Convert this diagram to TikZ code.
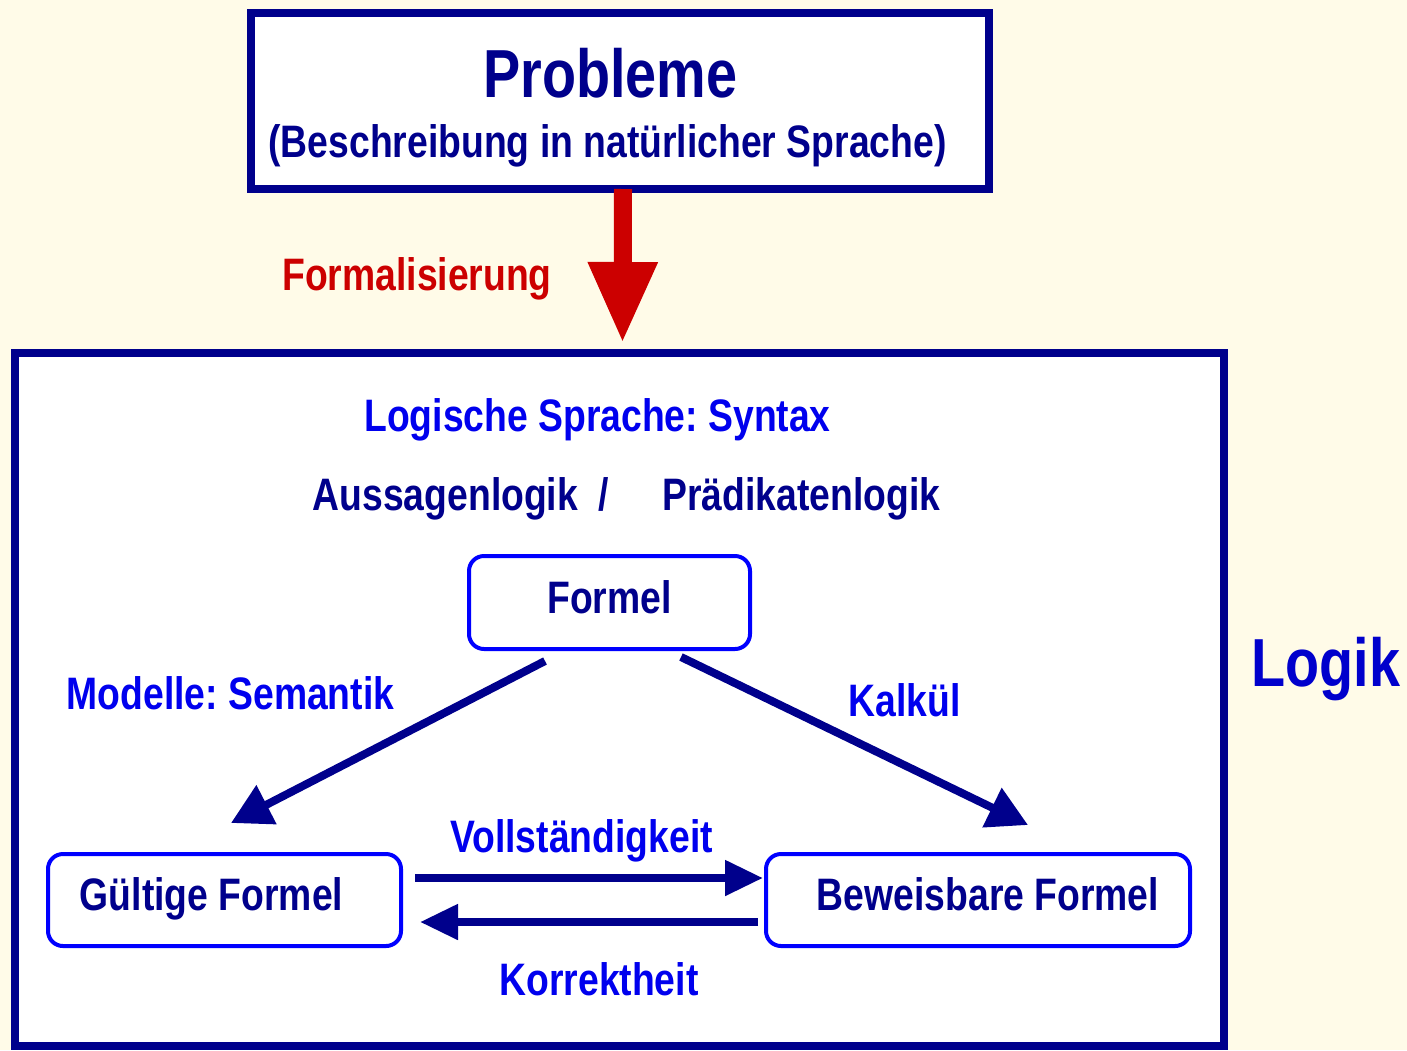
\documentclass[tikz,border=0pt]{standalone}
\usepackage{fontspec}
\setmainfont{Liberation Sans}[FakeStretch=0.82]
\usepackage{tikz}
\usetikzlibrary{arrows.meta, positioning}

\definecolor{navy}{RGB}{0,0,140}
\definecolor{hellblau}{RGB}{0,0,238}
\definecolor{logikblau}{RGB}{0,0,204}
\definecolor{rot}{RGB}{204,0,0}
\definecolor{creme}{RGB}{255,251,232}

\newcommand{\grossschrift}{\fontsize{68}{80}\selectfont\bfseries}
\newcommand{\mittelschrift}{\fontsize{45.5}{54}\selectfont\bfseries}
\frenchspacing

\begin{document}
\begin{tikzpicture}[x=1pt, y=-1pt,
  rahmen/.style={draw=navy, line width=8pt, fill=white, inner sep=0pt, outer sep=0pt},
  formbox/.style={draw=blue, line width=4pt, rounded corners=15pt, fill=white, inner sep=0pt, outer sep=0pt,
    text=navy, font=\mittelschrift, text height=33pt, text depth=12pt, minimum height=92pt},
  lbl/.style={anchor=base, inner sep=0pt, font=\mittelschrift, text=hellblau},
  pfeil/.style={draw=navy, line width=8pt, -{Triangle[length=38pt, width=34pt]}},
  schraeg/.style={draw=navy, line width=8pt, -{Triangle[length=40pt, width=42pt]}}]

\fill[creme] (0,0) rectangle (1407,1050);
\useasboundingbox (0,0) rectangle (1407,1050);

% the two frames
\node[rahmen, minimum width=1209pt, minimum height=693pt] (logikrahmen) at (619.5,699.5) {};
\node[rahmen, minimum width=738pt, minimum height=176pt] (problemrahmen) at (620,101) {};

\node[anchor=base, inner sep=0pt, font=\grossschrift, text=navy] (probleme) at (610.5,97) {Probleme};
\node[anchor=base, inner sep=0pt, font=\mittelschrift, text=navy] (beschreibung) at (607.5,157) {(Beschreibung in natürlicher Sprache)};

% Formalisierung
\draw[rot, line width=18pt, -{Triangle[length=81pt, width=65pt]}] ([xshift=3pt]problemrahmen.south) -- ([xshift=3pt,yshift=10pt]logikrahmen.north);
\node[lbl, text=rot] (formalisierung) at (417,290) {Formalisierung};

\node[lbl] (syntax) at (597.5,431) {Logische Sprache: Syntax};
\node[lbl, text=navy] (logiken) at (626.5,510) {Aussagenlogik\hspace{20pt}/\hspace{54pt}Prädikatenlogik};

\node[formbox, minimum width=281pt, minimum height=93pt] (formel) at (609.5,602.5) {Formel};
\node[formbox, minimum width=353pt] (gueltig) at (224.5,900) {\hspace*{-26pt}Gültige Formel};
\node[formbox, minimum width=424pt] (beweisbar) at (978,900) {\hspace*{20pt}Beweisbare Formel};

\draw[schraeg] ([xshift=-64.5pt,yshift=-12pt]formel.south) -- ([xshift=6.5pt,yshift=31pt]gueltig.north);
\draw[schraeg] ([xshift=71.5pt,yshift=-8pt]formel.south) -- ([xshift=50pt,yshift=29pt]beweisbar.north);

\draw[pfeil] ([xshift=14pt,yshift=22pt]gueltig.east) -- ([xshift=-3pt,yshift=22pt]beweisbar.west);
\draw[pfeil] ([xshift=-8pt,yshift=-22pt]beweisbar.west) -- ([xshift=19pt,yshift=-22pt]gueltig.east);

\node[lbl] (semantik) at (230.5,709) {Modelle: Semantik};
\node[lbl] (kalkuel) at (904.5,716) {Kalkül};
\node[lbl] (vollst) at (581.5,852) {Vollständigkeit};
\node[lbl] (korrekt) at (599,995) {Korrektheit};

\node[lbl, font=\grossschrift, text=logikblau] (logik) at (1326,686) {Logik};
\end{tikzpicture}
\end{document}
